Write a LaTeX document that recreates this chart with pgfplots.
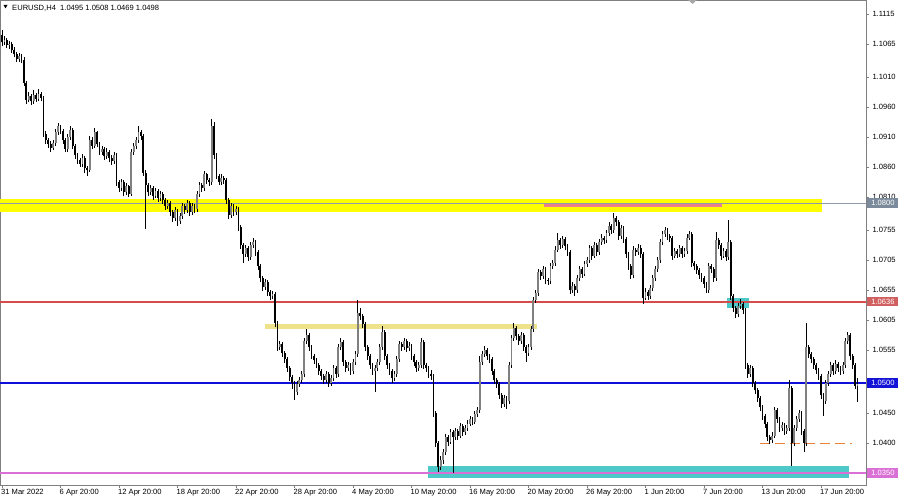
\documentclass[border=0pt]{standalone}
\usepackage{fontspec}
\setmainfont{Liberation Sans}
\usepackage{pgfplots}
\usepackage{pgfplotstable}
\pgfplotsset{compat=1.18}
\definecolor{axgray}{HTML}{7F7F7F}
\definecolor{bullgray}{HTML}{808080}
\definecolor{bandyellow}{HTML}{FFFF00}
\definecolor{khaki}{HTML}{EEE28A}
\definecolor{turq}{HTML}{4CC9C8}
\definecolor{lvlgray}{rgb}{0.55,0.61,0.68}
\definecolor{lvlred}{rgb}{0.84,0.30,0.30}
\definecolor{lvlblue}{rgb}{0.06,0.06,0.85}
\definecolor{orchid}{HTML}{DA70D6}
\definecolor{pinkseg}{HTML}{EC808C}
\definecolor{dashcol}{rgb}{0.92,0.50,0.22}
\definecolor{boxgray}{HTML}{7B8B9B}
\definecolor{boxred}{HTML}{D06060}
\definecolor{boxblue}{HTML}{1414D8}

\pgfplotstableread{
o h l c
1.1080 1.1089 1.1062 1.1068
1.1068 1.1078 1.1064 1.1072
1.1072 1.1076 1.1058 1.1063
1.1063 1.1070 1.1057 1.1066
1.1066 1.1069 1.1050 1.1055
1.1055 1.1060 1.1043 1.1048
1.1048 1.1052 1.1035 1.1040
1.1040 1.1050 1.1036 1.1045
1.1045 1.1049 1.1033 1.1038
1.1038 1.1043 1.0995 1.1000
1.1000 1.1004 1.0966 1.0972
1.0972 1.0985 1.0968 1.0978
1.0978 1.0982 1.0964 1.0970
1.0970 1.0988 1.0966 1.0980
1.0980 1.0984 1.0969 1.0974
1.0974 1.0990 1.0970 1.0982
1.0982 1.0986 1.0971 1.0976
1.0976 1.0979 1.0910 1.0915
1.0915 1.0920 1.0899 1.0905
1.0905 1.0909 1.0892 1.0898
1.0898 1.0903 1.0886 1.0892
1.0892 1.0906 1.0888 1.0900
1.0900 1.0924 1.0896 1.0918
1.0918 1.0934 1.0914 1.0928
1.0928 1.0931 1.0915 1.0920
1.0920 1.0924 1.0899 1.0905
1.0905 1.0909 1.0885 1.0890
1.0890 1.0915 1.0886 1.0910
1.0910 1.0928 1.0905 1.0922
1.0922 1.0925 1.0890 1.0895
1.0895 1.0899 1.0874 1.0880
1.0880 1.0884 1.0866 1.0872
1.0872 1.0876 1.0860 1.0865
1.0865 1.0882 1.0861 1.0876
1.0876 1.0879 1.0850 1.0858
1.0858 1.0862 1.0845 1.0855
1.0855 1.0912 1.0852 1.0905
1.0905 1.0910 1.0890 1.0895
1.0895 1.0926 1.0892 1.0918
1.0918 1.0921 1.0893 1.0898
1.0898 1.0902 1.0880 1.0885
1.0885 1.0896 1.0881 1.0890
1.0890 1.0893 1.0872 1.0878
1.0878 1.0892 1.0874 1.0886
1.0886 1.0889 1.0869 1.0875
1.0875 1.0880 1.0864 1.0870
1.0870 1.0885 1.0866 1.0880
1.0880 1.0883 1.0828 1.0835
1.0835 1.0839 1.0819 1.0825
1.0825 1.0841 1.0821 1.0835
1.0835 1.0838 1.0812 1.0818
1.0818 1.0834 1.0814 1.0828
1.0828 1.0831 1.0810 1.0815
1.0815 1.0891 1.0812 1.0885
1.0885 1.0900 1.0880 1.0895
1.0895 1.0910 1.0890 1.0905
1.0905 1.0928 1.0901 1.0918
1.0918 1.0922 1.0906 1.0912
1.0912 1.0916 1.0845 1.0850
1.0850 1.0855 1.0757 1.0830
1.0830 1.0834 1.0812 1.0818
1.0818 1.0830 1.0814 1.0825
1.0825 1.0828 1.0806 1.0812
1.0812 1.0826 1.0808 1.0820
1.0820 1.0823 1.0802 1.0808
1.0808 1.0820 1.0804 1.0815
1.0815 1.0818 1.0799 1.0805
1.0805 1.0808 1.0789 1.0795
1.0795 1.0806 1.0791 1.0800
1.0800 1.0803 1.0779 1.0785
1.0785 1.0789 1.0768 1.0775
1.0775 1.0794 1.0771 1.0788
1.0788 1.0791 1.0762 1.0770
1.0770 1.0784 1.0765 1.0778
1.0778 1.0800 1.0774 1.0795
1.0795 1.0798 1.0782 1.0788
1.0788 1.0806 1.0784 1.0800
1.0800 1.0803 1.0779 1.0785
1.0785 1.0801 1.0781 1.0796
1.0796 1.0799 1.0784 1.0790
1.0790 1.0820 1.0786 1.0815
1.0815 1.0836 1.0811 1.0830
1.0830 1.0834 1.0819 1.0825
1.0825 1.0853 1.0821 1.0848
1.0848 1.0851 1.0832 1.0838
1.0838 1.0842 1.0829 1.0835
1.0835 1.0940 1.0831 1.0928
1.0928 1.0935 1.0874 1.0880
1.0880 1.0884 1.0840 1.0845
1.0845 1.0849 1.0830 1.0835
1.0835 1.0848 1.0831 1.0842
1.0842 1.0846 1.0832 1.0838
1.0838 1.0842 1.0799 1.0805
1.0805 1.0809 1.0774 1.0780
1.0780 1.0801 1.0776 1.0795
1.0795 1.0799 1.0779 1.0785
1.0785 1.0796 1.0781 1.0790
1.0790 1.0793 1.0754 1.0760
1.0760 1.0764 1.0724 1.0730
1.0730 1.0734 1.0700 1.0715
1.0715 1.0730 1.0711 1.0725
1.0725 1.0729 1.0704 1.0710
1.0710 1.0736 1.0706 1.0730
1.0730 1.0742 1.0726 1.0735
1.0735 1.0739 1.0712 1.0718
1.0718 1.0722 1.0689 1.0695
1.0695 1.0699 1.0669 1.0675
1.0675 1.0679 1.0654 1.0660
1.0660 1.0674 1.0656 1.0668
1.0668 1.0672 1.0646 1.0652
1.0652 1.0656 1.0639 1.0645
1.0645 1.0654 1.0641 1.0648
1.0648 1.0652 1.0594 1.0600
1.0600 1.0604 1.0554 1.0560
1.0560 1.0571 1.0555 1.0565
1.0565 1.0569 1.0544 1.0550
1.0550 1.0554 1.0534 1.0540
1.0540 1.0544 1.0518 1.0525
1.0525 1.0529 1.0503 1.0510
1.0510 1.0514 1.0490 1.0500
1.0500 1.0504 1.0472 1.0485
1.0485 1.0503 1.0480 1.0498
1.0498 1.0511 1.0494 1.0505
1.0505 1.0521 1.0501 1.0515
1.0515 1.0576 1.0511 1.0570
1.0570 1.0590 1.0565 1.0580
1.0580 1.0584 1.0554 1.0560
1.0560 1.0564 1.0540 1.0545
1.0545 1.0549 1.0532 1.0538
1.0538 1.0542 1.0525 1.0530
1.0530 1.0534 1.0514 1.0520
1.0520 1.0524 1.0506 1.0512
1.0512 1.0516 1.0498 1.0505
1.0505 1.0521 1.0501 1.0515
1.0515 1.0519 1.0494 1.0500
1.0500 1.0514 1.0496 1.0508
1.0508 1.0531 1.0504 1.0525
1.0525 1.0529 1.0509 1.0515
1.0515 1.0566 1.0511 1.0560
1.0560 1.0575 1.0556 1.0568
1.0568 1.0572 1.0529 1.0535
1.0535 1.0539 1.0519 1.0525
1.0525 1.0536 1.0521 1.0530
1.0530 1.0534 1.0514 1.0520
1.0520 1.0541 1.0516 1.0535
1.0535 1.0554 1.0531 1.0548
1.0548 1.0639 1.0544 1.0617
1.0617 1.0625 1.0606 1.0612
1.0612 1.0616 1.0592 1.0598
1.0598 1.0602 1.0554 1.0560
1.0560 1.0564 1.0539 1.0545
1.0545 1.0549 1.0524 1.0530
1.0530 1.0534 1.0514 1.0520
1.0520 1.0531 1.0485 1.0525
1.0525 1.0541 1.0521 1.0535
1.0535 1.0566 1.0531 1.0560
1.0560 1.0595 1.0556 1.0585
1.0585 1.0589 1.0539 1.0545
1.0545 1.0549 1.0524 1.0530
1.0530 1.0534 1.0514 1.0520
1.0520 1.0524 1.0500 1.0508
1.0508 1.0521 1.0504 1.0515
1.0515 1.0546 1.0511 1.0540
1.0540 1.0571 1.0536 1.0565
1.0565 1.0569 1.0554 1.0560
1.0560 1.0576 1.0556 1.0570
1.0570 1.0574 1.0552 1.0558
1.0558 1.0568 1.0554 1.0562
1.0562 1.0566 1.0539 1.0545
1.0545 1.0549 1.0529 1.0535
1.0535 1.0539 1.0519 1.0525
1.0525 1.0536 1.0521 1.0530
1.0530 1.0575 1.0526 1.0568
1.0568 1.0572 1.0524 1.0530
1.0530 1.0534 1.0519 1.0525
1.0525 1.0529 1.0509 1.0515
1.0515 1.0522 1.0506 1.0512
1.0512 1.0516 1.0444 1.0450
1.0450 1.0454 1.0394 1.0400
1.0400 1.0404 1.0352 1.0360
1.0360 1.0378 1.0355 1.0372
1.0372 1.0391 1.0366 1.0385
1.0385 1.0416 1.0380 1.0410
1.0410 1.0414 1.0396 1.0402
1.0402 1.0424 1.0398 1.0418
1.0418 1.0422 1.0350 1.0410
1.0410 1.0426 1.0406 1.0420
1.0420 1.0424 1.0406 1.0412
1.0412 1.0434 1.0408 1.0428
1.0428 1.0432 1.0412 1.0418
1.0418 1.0431 1.0414 1.0425
1.0425 1.0438 1.0421 1.0432
1.0432 1.0446 1.0428 1.0440
1.0440 1.0444 1.0430 1.0436
1.0436 1.0454 1.0432 1.0448
1.0448 1.0461 1.0444 1.0455
1.0455 1.0545 1.0451 1.0535
1.0535 1.0554 1.0531 1.0548
1.0548 1.0562 1.0544 1.0555
1.0555 1.0559 1.0539 1.0545
1.0545 1.0549 1.0534 1.0540
1.0540 1.0544 1.0514 1.0520
1.0520 1.0524 1.0499 1.0505
1.0505 1.0509 1.0492 1.0498
1.0498 1.0502 1.0474 1.0480
1.0480 1.0484 1.0459 1.0465
1.0465 1.0481 1.0461 1.0475
1.0475 1.0479 1.0457 1.0470
1.0470 1.0536 1.0466 1.0530
1.0530 1.0581 1.0526 1.0575
1.0575 1.0600 1.0571 1.0592
1.0592 1.0596 1.0572 1.0578
1.0578 1.0582 1.0564 1.0570
1.0570 1.0586 1.0566 1.0580
1.0580 1.0584 1.0554 1.0560
1.0560 1.0564 1.0535 1.0550
1.0550 1.0566 1.0546 1.0560
1.0560 1.0596 1.0556 1.0590
1.0590 1.0644 1.0586 1.0638
1.0638 1.0656 1.0634 1.0650
1.0650 1.0691 1.0646 1.0685
1.0685 1.0689 1.0672 1.0678
1.0678 1.0695 1.0674 1.0690
1.0690 1.0694 1.0666 1.0672
1.0672 1.0676 1.0664 1.0670
1.0670 1.0701 1.0666 1.0695
1.0695 1.0706 1.0691 1.0700
1.0700 1.0728 1.0696 1.0722
1.0722 1.0750 1.0718 1.0738
1.0738 1.0742 1.0724 1.0730
1.0730 1.0746 1.0726 1.0740
1.0740 1.0744 1.0722 1.0728
1.0728 1.0732 1.0712 1.0718
1.0718 1.0722 1.0649 1.0655
1.0655 1.0668 1.0651 1.0662
1.0662 1.0666 1.0645 1.0655
1.0655 1.0681 1.0651 1.0675
1.0675 1.0696 1.0671 1.0690
1.0690 1.0694 1.0676 1.0682
1.0682 1.0704 1.0678 1.0698
1.0698 1.0711 1.0694 1.0705
1.0705 1.0731 1.0701 1.0725
1.0725 1.0729 1.0706 1.0712
1.0712 1.0736 1.0708 1.0730
1.0730 1.0734 1.0712 1.0718
1.0718 1.0741 1.0714 1.0735
1.0735 1.0748 1.0731 1.0742
1.0742 1.0746 1.0732 1.0738
1.0738 1.0756 1.0734 1.0750
1.0750 1.0768 1.0746 1.0762
1.0762 1.0766 1.0749 1.0755
1.0755 1.0783 1.0751 1.0775
1.0775 1.0779 1.0762 1.0768
1.0768 1.0772 1.0739 1.0745
1.0745 1.0764 1.0741 1.0758
1.0758 1.0762 1.0734 1.0740
1.0740 1.0744 1.0709 1.0715
1.0715 1.0719 1.0689 1.0695
1.0695 1.0699 1.0674 1.0680
1.0680 1.0728 1.0676 1.0722
1.0722 1.0726 1.0712 1.0718
1.0718 1.0732 1.0714 1.0726
1.0726 1.0730 1.0709 1.0715
1.0715 1.0719 1.0632 1.0642
1.0642 1.0658 1.0638 1.0652
1.0652 1.0656 1.0639 1.0645
1.0645 1.0664 1.0641 1.0658
1.0658 1.0681 1.0654 1.0675
1.0675 1.0696 1.0671 1.0690
1.0690 1.0711 1.0686 1.0705
1.0705 1.0741 1.0701 1.0735
1.0735 1.0754 1.0731 1.0748
1.0748 1.0760 1.0744 1.0755
1.0755 1.0759 1.0739 1.0745
1.0745 1.0749 1.0736 1.0742
1.0742 1.0746 1.0706 1.0712
1.0712 1.0726 1.0708 1.0720
1.0720 1.0724 1.0709 1.0715
1.0715 1.0731 1.0711 1.0725
1.0725 1.0729 1.0709 1.0715
1.0715 1.0726 1.0711 1.0720
1.0720 1.0748 1.0716 1.0742
1.0742 1.0754 1.0738 1.0748
1.0748 1.0752 1.0694 1.0700
1.0700 1.0704 1.0689 1.0695
1.0695 1.0699 1.0682 1.0688
1.0688 1.0692 1.0674 1.0680
1.0680 1.0684 1.0669 1.0675
1.0675 1.0679 1.0659 1.0665
1.0665 1.0669 1.0650 1.0655
1.0655 1.0701 1.0651 1.0695
1.0695 1.0699 1.0684 1.0690
1.0690 1.0694 1.0669 1.0675
1.0675 1.0752 1.0671 1.0738
1.0738 1.0742 1.0724 1.0730
1.0730 1.0734 1.0706 1.0712
1.0712 1.0726 1.0708 1.0720
1.0720 1.0724 1.0704 1.0710
1.0710 1.0772 1.0706 1.0735
1.0735 1.0739 1.0639 1.0645
1.0645 1.0649 1.0619 1.0625
1.0625 1.0629 1.0609 1.0615
1.0615 1.0634 1.0611 1.0628
1.0628 1.0640 1.0624 1.0632
1.0632 1.0636 1.0616 1.0622
1.0622 1.0626 1.0524 1.0530
1.0530 1.0534 1.0509 1.0515
1.0515 1.0531 1.0511 1.0525
1.0525 1.0529 1.0494 1.0500
1.0500 1.0504 1.0482 1.0488
1.0488 1.0492 1.0469 1.0475
1.0475 1.0479 1.0454 1.0460
1.0460 1.0464 1.0439 1.0445
1.0445 1.0449 1.0426 1.0432
1.0432 1.0436 1.0404 1.0410
1.0410 1.0414 1.0398 1.0405
1.0405 1.0418 1.0400 1.0412
1.0412 1.0461 1.0408 1.0455
1.0455 1.0459 1.0434 1.0440
1.0440 1.0444 1.0419 1.0425
1.0425 1.0436 1.0421 1.0430
1.0430 1.0434 1.0414 1.0420
1.0420 1.0431 1.0416 1.0425
1.0425 1.0505 1.0421 1.0492
1.0492 1.0496 1.0362 1.0400
1.0400 1.0431 1.0396 1.0425
1.0425 1.0446 1.0421 1.0440
1.0440 1.0456 1.0436 1.0450
1.0450 1.0454 1.0414 1.0420
1.0420 1.0424 1.0385 1.0400
1.0400 1.0600 1.0396 1.0560
1.0560 1.0564 1.0542 1.0548
1.0548 1.0552 1.0534 1.0540
1.0540 1.0544 1.0524 1.0530
1.0530 1.0534 1.0516 1.0522
1.0522 1.0526 1.0506 1.0512
1.0512 1.0516 1.0474 1.0480
1.0480 1.0484 1.0445 1.0470
1.0470 1.0506 1.0466 1.0500
1.0500 1.0521 1.0496 1.0515
1.0515 1.0536 1.0511 1.0530
1.0530 1.0534 1.0514 1.0520
1.0520 1.0538 1.0516 1.0532
1.0532 1.0536 1.0519 1.0525
1.0525 1.0529 1.0514 1.0520
1.0520 1.0536 1.0516 1.0530
1.0530 1.0576 1.0526 1.0570
1.0570 1.0586 1.0566 1.0580
1.0580 1.0584 1.0539 1.0545
1.0545 1.0549 1.0524 1.0530
1.0530 1.0534 1.0490 1.0495
1.0495 1.0508 1.0469 1.0498
}\candles

\newcommand{\lblfont}{\fontsize{7.6}{9}\selectfont}

\begin{document}
\begin{tikzpicture}
\useasboundingbox (0,0) rectangle (900bp,497bp);
\begin{axis}[
  at={(0bp,12bp)}, anchor=south west,
  scale only axis, width=866bp, height=485bp,
  xmin=-0.82, xmax=354.46, ymin=1.03305, ymax=1.11388,
  clip mode=individual,
  axis line style={draw=axgray, line width=0.8bp},
  tick align=outside, major tick length=3bp,
  tick style={draw=axgray, line width=0.6bp},
  ytick pos=right, yticklabel pos=right,
  xtick pos=bottom,
  scaled y ticks=false,
  ytick={1.0350,1.0400,1.0450,1.0500,1.0555,1.0605,1.0655,1.0705,1.0755,1.0810,1.0860,1.0910,1.0960,1.1010,1.1065,1.1115},
  yticklabel style={font=\lblfont, /pgf/number format/.cd, fixed, fixed zerofill, precision=4, assume math mode=true},
  xtick={0,24,48,72,96,120,144,168,192,216,240,264,288,312,336},
  xticklabels={31 Mar 2022, 6 Apr 20:00, 12 Apr 20:00, 18 Apr 20:00, 22 Apr 20:00, 28 Apr 20:00, 4 May 20:00, 10 May 20:00, 16 May 20:00, 20 May 20:00, 26 May 20:00, 1 Jun 20:00, 7 Jun 20:00, 13 Jun 20:00, 17 Jun 20:00},
  xticklabel style={font=\lblfont, anchor=north west, xshift=-2bp, inner sep=1bp},
  candle/.style={draw=none, mark=none, forget plot,
    error bars/.cd, y dir=plus, y explicit, error mark=none},
]
% zones
\fill[bandyellow] (axis cs:-0.82,1.07855) rectangle (axis cs:336.4,1.08072);
\fill[khaki] (axis cs:107.9,1.05905) rectangle (axis cs:219.5,1.05988);
\fill[turq] (axis cs:174.8,1.03422) rectangle (axis cs:347.5,1.03622);
\fill[turq] (axis cs:297.4,1.06255) rectangle (axis cs:306.5,1.06422);
% levels
\draw[draw=lvlgray, line width=1.3bp] (axis cs:-0.82,1.0800) -- (axis cs:354.46,1.0800);
\draw[draw=pinkseg, line width=3bp] (axis cs:222.4,1.0796) -- (axis cs:295.4,1.0796);
\draw[draw=lvlred, line width=2bp] (axis cs:-0.82,1.0636) -- (axis cs:354.46,1.0636);
\draw[draw=lvlblue, line width=1.9bp] (axis cs:-0.82,1.0500) -- (axis cs:354.46,1.0500);
\draw[draw=orchid, line width=1.5bp] (axis cs:-0.82,1.0350) -- (axis cs:354.46,1.0350);
\draw[draw=dashcol, line width=1.4bp, dash pattern=on 10bp off 5bp] (axis cs:311,1.0400) -- (axis cs:348.7,1.0400);
% candles: wicks
\addplot[candle, error bar style={draw=black, line width=0.8bp}]
  table[x expr=\coordindex, y=l, y error plus expr=\thisrow{h}-\thisrow{l}] {\candles};
% bull bodies
\addplot[candle, error bar style={draw=bullgray, line width=1.8bp}]
  table[x expr=\coordindex,
        y expr={\thisrow{c}>=\thisrow{o} ? \thisrow{o} : 0},
        y error plus expr={\thisrow{c}>=\thisrow{o} ? \thisrow{c}-\thisrow{o} : 0}] {\candles};
% bear bodies
\addplot[candle, error bar style={draw=black, line width=1.8bp}]
  table[x expr=\coordindex,
        y expr={\thisrow{c}<\thisrow{o} ? \thisrow{c} : 0},
        y error plus expr={\thisrow{c}<\thisrow{o} ? \thisrow{o}-\thisrow{c} : 0}] {\candles};
% price boxes on the right
\node[fill=boxgray, text=white, anchor=west, inner sep=0pt, minimum height=9.5bp, minimum width=31bp, font=\lblfont, xshift=1.2bp] at (axis cs:354.46,1.0800) {1.0800};
\node[fill=boxred, text=white, anchor=west, inner sep=0pt, minimum height=9.5bp, minimum width=31bp, font=\lblfont, xshift=1.2bp] at (axis cs:354.46,1.0636) {1.0636};
\node[fill=boxblue, text=white, anchor=west, inner sep=0pt, minimum height=9.5bp, minimum width=31bp, font=\lblfont, xshift=1.2bp] at (axis cs:354.46,1.0500) {1.0500};
\node[fill=orchid, text=white, anchor=west, inner sep=0pt, minimum height=9.5bp, minimum width=31bp, font=\lblfont, xshift=1.2bp] at (axis cs:354.46,1.0350) {1.0350};
% header
\fill[black] (axis description cs:0.00404,0.98969) -- (axis description cs:0.00866,0.98969) -- (axis description cs:0.00635,0.98247) -- cycle;
\node[anchor=west, inner sep=0pt, font=\lblfont] at (axis description cs:0.0139,0.9835) {EURUSD,H4\ \ 1.0495 1.0508 1.0469 1.0498};
\fill[gray!70] (axis description cs:0.7945,1) -- (axis description cs:0.8048,1) -- (axis description cs:0.7997,0.99175) -- cycle;
\end{axis}
\end{tikzpicture}
\end{document}
